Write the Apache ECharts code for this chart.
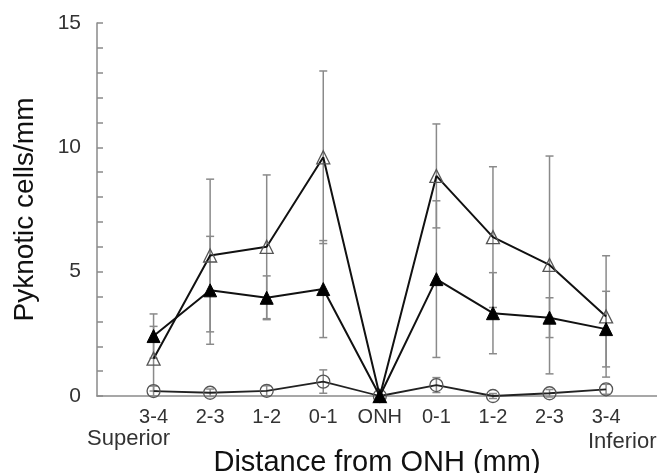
<!DOCTYPE html>
<html>
<head>
<meta charset="utf-8">
<script src="https://cdn.jsdelivr.net/npm/echarts@6/dist/echarts.min.js"></script>
<style>html,body{margin:0;padding:0;background:#fff}#c{width:657px;height:473px}</style>
</head>
<body>
<div id="c"></div>
<script>
var categories = ['3-4','2-3','1-2','0-1','ONH','0-1','1-2','2-3','3-4'];
var positions = [1,2,3,4,5,6,7,8,9];
var openTri = [1.5, 5.65, 6.0, 9.6, 0, 8.85, 6.39, 5.27, 3.2];
var openTriSD = [1.3, 3.07, 2.89, 3.47, 0, 2.09, 2.83, 4.38, 2.44];
var filledTri = [2.41, 4.25, 3.95, 4.3, 0, 4.7, 3.33, 3.15, 2.69];
var filledTriSD = [0.89, 2.17, 0.88, 1.95, 0, 3.15, 1.63, 0.8, 1.52];
var circles = [0.2, 0.13, 0.21, 0.58, 0, 0.44, 0.0, 0.11, 0.27];
var circlesSD = [0.2, 0.15, 0.2, 0.47, 0, 0.3, 0.1, 0.15, 0.2];
var yTicks = [0, 5, 10, 15];

function pairs(vals){ return positions.map(function(p,i){ return [p, vals[i]]; }); }
function errData(vals, sds){ return positions.map(function(p,i){ return [p, vals[i]-sds[i], vals[i]+sds[i]]; }); }

function errSeries(vals, sds){
  return {
    type: 'custom',
    z: 1,
    silent: true,
    data: errData(vals, sds),
    renderItem: function(params, api){
      var x = api.value(0);
      var lo = api.coord([x, api.value(1)]);
      var hi = api.coord([x, api.value(2)]);
      var w = 4;
      var st = {stroke: '#8a8a8a', lineWidth: 1.5};
      return {type: 'group', children: [
        {type: 'line', shape: {x1: lo[0], y1: lo[1], x2: hi[0], y2: hi[1]}, style: st},
        {type: 'line', shape: {x1: hi[0]-w, y1: hi[1], x2: hi[0]+w, y2: hi[1]}, style: st},
        {type: 'line', shape: {x1: lo[0]-w, y1: lo[1], x2: lo[0]+w, y2: lo[1]}, style: st}
      ]};
    }
  };
}

var chart = echarts.init(document.getElementById('c'));
chart.setOption({
  animation: false,
  grid: {left: 97, top: 23, right: 0, bottom: 77, outerBoundsMode: 'none', containLabel: false},
  xAxis: {
    type: 'value', min: 0, max: 9.9, interval: 1,
    axisLine: {lineStyle: {color: '#8a8a8a', width: 1.5}},
    axisTick: {show: false},
    splitLine: {show: false},
    axisLabel: {
      margin: 11, fontFamily: 'Liberation Sans, Arial', fontSize: 20, color: '#333',
      showMaxLabel: false,
      formatter: function(v){ var i = Math.round(v) - 1; return (Math.abs(v-Math.round(v))<1e-6 && categories[i]) ? categories[i] : ''; }
    },
    name: 'Distance from ONH (mm)', nameLocation: 'middle', nameGap: 52,
    nameTextStyle: {fontFamily: 'Liberation Sans, Arial', fontSize: 29, color: '#111'}
  },
  yAxis: {
    type: 'value', min: 0, max: 15, interval: 1,
    axisLine: {show: true, lineStyle: {color: '#8a8a8a', width: 1.5}},
    axisTick: {show: true, inside: true, length: 6, lineStyle: {color: '#8a8a8a', width: 1.5}},
    splitLine: {show: false},
    axisLabel: {
      margin: 16, fontFamily: 'Liberation Sans, Arial', fontSize: 21, color: '#333',
      formatter: function(v){ return yTicks.indexOf(v) >= 0 ? String(v) : ''; }
    },
    name: 'Pyknotic cells/mm', nameLocation: 'middle', nameGap: 58, nameRotate: 90,
    nameTextStyle: {fontFamily: 'Liberation Sans, Arial', fontSize: 28, color: '#111'}
  },
  graphic: [
    {type: 'text', left: 87, top: 428, style: {text: 'Superior', font: '22px "Liberation Sans", Arial', fill: '#333'}},
    {type: 'text', left: 588, top: 431, style: {text: 'Inferior', font: '22px "Liberation Sans", Arial', fill: '#333'}}
  ],
  series: [
    errSeries(openTri, openTriSD),
    errSeries(filledTri, filledTriSD),
    errSeries(circles, circlesSD),
    {
      type: 'line', z: 3, data: pairs(circles), symbol: 'circle', symbolSize: 13,
      lineStyle: {color: '#222', width: 1.8},
      itemStyle: {color: 'rgba(0,0,0,0)', borderColor: '#555', borderWidth: 1.3}
    },
    {
      type: 'line', z: 4, data: pairs(openTri), symbol: 'triangle', symbolSize: 13,
      lineStyle: {color: '#111', width: 2},
      itemStyle: {color: 'rgba(0,0,0,0)', borderColor: '#555', borderWidth: 1.3}
    },
    {
      type: 'line', z: 5, data: pairs(filledTri), symbol: 'triangle', symbolSize: 13,
      lineStyle: {color: '#111', width: 2},
      itemStyle: {color: '#000', borderColor: '#000', borderWidth: 1}
    }
  ]
});
</script>
</body>
</html>
